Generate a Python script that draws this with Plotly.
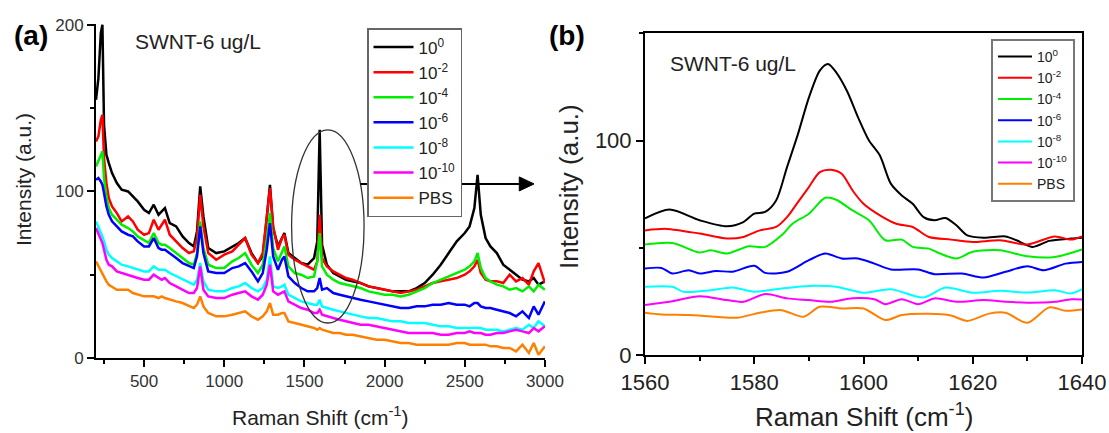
import plotly.graph_objects as go

W, H = 1109, 433
FONT = "Arial, Liberation Sans, sans-serif"

# ---------------- Panel (a): full spectra ----------------
a_shift = [200, 215, 230, 240, 250, 265, 280, 300, 330, 360, 400, 430, 460, 500, 530, 560, 590, 610, 630,
           660, 700, 740, 780, 810, 830, 850, 870, 900, 950, 1000, 1050, 1090, 1130, 1170, 1210, 1240,
           1265, 1285, 1305, 1335, 1360, 1375, 1400, 1440, 1480, 1520, 1560, 1580, 1595, 1610, 1640,
           1680, 1720, 1760, 1800, 1850, 1900, 1950, 2000, 2050, 2100, 2150, 2200, 2250, 2300, 2350,
           2400, 2450, 2500, 2530, 2560, 2580, 2600, 2630, 2660, 2700, 2740, 2780, 2820, 2860, 2900,
           2930, 2960, 3000]

a_1e0 = [155, 168, 195, 200, 140, 122, 117, 111, 105, 101, 100, 97, 94, 89, 87, 92, 86, 88, 90,
         81, 79, 73, 69, 67, 76, 103, 85, 66, 63, 64, 67, 69, 72, 63, 57, 61,
         84, 104, 78, 67, 72, 75, 63, 60, 57, 56, 60, 70, 137, 68, 56,
         51, 49, 47, 46, 45, 43, 42, 41, 40, 40, 40, 42, 45, 50, 56,
         63, 70, 75, 79, 90, 110, 86, 72, 67, 63, 56, 53, 50, 47, 46,
         48, 44, 46]
a_1e2 = [130, 133, 143, 146, 120, 105, 96, 91, 87, 82, 85, 82, 77, 74, 75, 83, 77, 80, 83,
         74, 70, 66, 63, 64, 72, 98, 79, 63, 59, 62, 64, 68, 72, 62, 57, 63,
         84, 102, 79, 65, 72, 74, 62, 59, 57, 55, 53, 58, 86, 60, 55,
         52, 50, 48, 47, 45, 43, 42, 41, 40, 39, 40, 41, 43, 45, 46,
         47, 48, 50, 52, 55, 59, 51, 47, 46, 46, 45, 50, 46, 48, 44,
         52, 57, 45]
a_1e4 = [115, 118, 122, 124, 108, 97, 90, 86, 83, 80, 78, 76, 73, 71, 69, 75, 69, 68, 68,
         66, 63, 60, 57, 56, 63, 82, 66, 56, 54, 54, 58, 60, 63, 56, 51, 56,
         71, 87, 66, 58, 64, 67, 55, 51, 50, 48, 49, 58, 75, 55, 50,
         47, 45, 44, 43, 42, 40, 39, 38, 38, 37, 38, 40, 42, 45, 47,
         49, 51, 53, 55, 58, 63, 54, 48, 46, 44, 43, 41, 42, 40, 43,
         40, 44, 41]
a_1e6 = [107, 108, 106, 104, 99, 91, 86, 82, 79, 76, 74, 73, 70, 67, 67, 72, 66, 65, 65,
         63, 60, 57, 55, 54, 61, 79, 63, 52, 51, 51, 54, 55, 57, 52, 46, 51,
         65, 81, 61, 53, 59, 61, 49, 45, 42, 40, 40, 42, 48, 41, 42,
         39, 38, 37, 36, 35, 34, 33, 32, 31, 30, 30, 31, 31, 32, 32,
         33, 32, 32, 31, 33, 33, 31, 30, 30, 29, 28, 27, 25, 28, 24,
         31, 26, 34]
a_1e8 = [82, 79, 76, 73, 70, 65, 62, 60, 58, 56, 55, 54, 53, 52, 52, 55, 53, 53, 53,
         51, 49, 47, 45, 44, 47, 57, 46, 41, 40, 40, 42, 43, 45, 42, 40, 42,
         47, 61, 43, 42, 43, 44, 38, 36, 34, 33, 32, 32, 35, 31, 30,
         29, 28, 27, 26, 25, 24, 24, 23, 22, 22, 21, 21, 21, 20, 19,
         19, 18, 18, 18, 18, 18, 18, 17, 17, 17, 16, 17, 18, 17, 20,
         18, 22, 19]
a_1e10 = [78, 75, 72, 69, 65, 59, 56, 55, 52, 51, 50, 49, 48, 47, 47, 50, 48, 47, 48,
          45, 43, 41, 39, 39, 42, 55, 41, 37, 36, 36, 38, 39, 40, 37, 35, 38,
          44, 56, 40, 38, 39, 40, 34, 32, 30, 29, 27, 27, 29, 26, 25,
          24, 23, 22, 21, 20, 20, 19, 18, 17, 16, 15, 15, 15, 15, 14,
          14, 15, 15, 16, 15, 15, 15, 14, 14, 15, 15, 16, 17, 16, 15,
          18, 16, 19]
a_pbs = [58, 55, 53, 51, 49, 46, 44, 43, 41, 41, 41, 39, 38, 37, 37, 37, 36, 37, 36,
         35, 34, 33, 31, 30, 32, 37, 31, 27, 25, 25, 26, 27, 28, 25, 23, 25,
         28, 33, 26, 26, 27, 27, 22, 21, 20, 19, 18, 17, 18, 17, 16,
         15, 15, 14, 14, 13, 12, 11, 11, 10, 9, 9, 8, 8, 8, 8,
         8, 9, 9, 8, 8, 8, 8, 8, 7, 7, 6, 6, 4, 8, 3,
         9, 2, 7]

# ---------------- Panel (b): G-band zoom ----------------
b_1e0_x = [1560, 1564.5, 1570, 1575, 1578, 1580, 1582, 1584, 1586, 1588, 1590, 1592, 1593.5, 1595, 1597,
           1599, 1601, 1603, 1605, 1607, 1609, 1611, 1613, 1615, 1617, 1619, 1622, 1626, 1628, 1631,
           1634, 1638, 1640]
b_1e0_y = [63.7, 67.8, 62.8, 60, 62, 65.9, 66.7, 72, 87.6, 103, 120, 132.6, 135.7, 131.8, 123,
           110.8, 100, 93, 79.9, 74.4, 70.5, 64.3, 62.8, 63.9, 60.5, 55.8, 54.7, 55.3, 53.5, 50.4,
           53.2, 54.3, 54.7]
b_1e2_x = [1560, 1564, 1570, 1575, 1578, 1581, 1584, 1586, 1588, 1590, 1592, 1594, 1596, 1598, 1600,
           1603, 1606, 1609, 1612, 1616, 1620, 1625, 1630, 1635, 1638, 1640]
b_1e2_y = [58.1, 58.8, 56.6, 54.3, 55, 58.1, 59.7, 64.3, 71.3, 78.3, 85.3, 86.4, 84.5, 76.7, 70.5,
           65.1, 61.2, 59.7, 55, 53.8, 52.7, 53.5, 51.5, 55.3, 53.8, 55.3]
b_1e4_x = [1560, 1565, 1570, 1572, 1575, 1579, 1582, 1585, 1587, 1590, 1593, 1595, 1598, 1601, 1604,
           1607, 1609, 1612, 1614, 1617, 1620, 1625, 1630, 1635, 1640]
b_1e4_y = [51.5, 52.2, 47.8, 48.8, 47.3, 50.7, 50.4, 55.8, 61.2, 65.9, 73.3, 72.4, 67.4, 62.8, 53.5,
           53.8, 50.4, 49.6, 47.3, 45, 48.1, 48.8, 46, 45.7, 49.2]
b_1e6_x = [1560, 1563, 1565, 1568, 1570, 1573, 1576, 1580, 1582, 1586, 1590, 1593, 1596, 1599, 1602,
           1605, 1610, 1613, 1618, 1622, 1626, 1630, 1633, 1637, 1640]
b_1e6_y = [40.3, 40.6, 38, 39.5, 38, 39.2, 38.8, 41.6, 38.3, 38.8, 44.2, 47.3, 45, 45, 42.6,
           39.9, 39.9, 37.7, 38, 36.1, 38.8, 41.4, 39.5, 42.6, 43.4]
b_1e8_x = [1560, 1565, 1567, 1572, 1576, 1580, 1585, 1590, 1595, 1600, 1605, 1611, 1615, 1620, 1625,
           1630, 1635, 1638, 1640]
b_1e8_y = [31.8, 31.8, 29.5, 30.2, 31.5, 29.5, 31, 32.2, 31.8, 29, 30.7, 26.8, 31.5, 29, 29.9,
           29.1, 30.2, 28.7, 30.7]
b_1e10_x = [1560, 1565, 1570, 1575, 1578, 1582, 1586, 1590, 1594, 1598, 1602, 1604, 1607, 1610, 1613,
            1617, 1622, 1626, 1630, 1635, 1638, 1640]
b_1e10_y = [23.3, 25.1, 27.4, 25.6, 24.8, 28.4, 26.4, 25.6, 24.8, 26.5, 26, 23.7, 26, 23.7, 26.4,
            24.8, 25.6, 24.8, 24.4, 24.8, 26, 25.9]
b_pbs_x = [1560, 1563, 1568, 1573, 1577, 1581, 1585, 1589, 1592, 1596, 1600, 1604, 1607, 1612, 1616,
           1619, 1623, 1626, 1630, 1634, 1637, 1640]
b_pbs_y = [19.7, 18.9, 18.6, 17.8, 17.4, 19.7, 20.9, 17.8, 22.5, 21.7, 21.7, 16.3, 18.6, 19.2, 18.4,
           15.9, 19.3, 19.7, 15, 22.2, 20.6, 21.2]

labels = ["10<sup>0</sup>", "10<sup>-2</sup>", "10<sup>-4</sup>", "10<sup>-6</sup>",
          "10<sup>-8</sup>", "10<sup>-10</sup>", "PBS"]
colors = ["#000000", "#FF0000", "#00EE00", "#0000FF", "#00FFFF", "#FF00FF", "#FF8000"]

a_series = [a_1e0, a_1e2, a_1e4, a_1e6, a_1e8, a_1e10, a_pbs]
b_series = [(b_1e0_x, b_1e0_y), (b_1e2_x, b_1e2_y), (b_1e4_x, b_1e4_y), (b_1e6_x, b_1e6_y),
            (b_1e8_x, b_1e8_y), (b_1e10_x, b_1e10_y), (b_pbs_x, b_pbs_y)]

fig = go.Figure()
for lab, col, ys in zip(labels, colors, a_series):
    fig.add_trace(go.Scatter(x=a_shift, y=ys, mode="lines", name=lab,
                             line=dict(color=col, width=2.5), xaxis="x", yaxis="y",
                             legend="legend"))
for lab, col, (xs, ys) in zip(labels, colors, b_series):
    fig.add_trace(go.Scatter(x=xs, y=ys, mode="lines", name=lab,
                             line=dict(color=col, width=2, shape="spline", smoothing=0.8),
                             xaxis="x2", yaxis="y2", legend="legend2"))


def fx(px):
    return px / W


def fy(py):
    return 1 - py / H


axis_common = dict(showgrid=False, zeroline=False, showline=True, linecolor="black",
                   ticks="outside", tickcolor="black", tickwidth=1.5, ticklen=7,
                   automargin=False)

fig.update_layout(
    width=W, height=H, margin=dict(l=0, r=0, t=0, b=0, pad=0, autoexpand=False),
    paper_bgcolor="white", plot_bgcolor="white",
    font=dict(family=FONT, color="#222"),
    xaxis=dict(domain=[fx(96), fx(545)], range=[200, 3000.5], anchor="y", dtick=500, tick0=0,
               linewidth=2, tickfont=dict(size=17, color="#333"),
               minor=dict(ticks="outside", ticklen=4, dtick=250, tick0=0, tickcolor="black"),
               **axis_common),
    yaxis=dict(domain=[fy(358), fy(24)], range=[0, 200.5], anchor="x", dtick=100, tick0=0,
               linewidth=2, tickfont=dict(size=17, color="#333"),
               minor=dict(ticks="outside", ticklen=4, dtick=50, tick0=0, tickcolor="black"),
               **axis_common),
    xaxis2=dict(domain=[fx(645), fx(1082)], range=[1560, 1640], anchor="y2", dtick=20, tick0=1560,
                linewidth=2, mirror=True, tickfont=dict(size=22, color="#222"),
                minor=dict(ticks="outside", ticklen=4, dtick=10, tick0=1560, tickcolor="black"),
                **axis_common),
    yaxis2=dict(domain=[fy(355), fy(33.3)], range=[0, 150], anchor="x2", dtick=100, tick0=0,
                linewidth=2, mirror=True, tickfont=dict(size=22, color="#222"),
                minor=dict(ticks="outside", ticklen=4, dtick=50, tick0=0, tickcolor="black"),
                **axis_common),
    legend=dict(x=fx(367), y=fy(28), xanchor="left", yanchor="top", bgcolor="white",
                bordercolor="#666", borderwidth=1.5, font=dict(size=17, color="#222", family=FONT),
                itemwidth=40, tracegroupgap=0),
    legend2=dict(x=fx(991), y=fy(39), xanchor="left", yanchor="top", bgcolor="white",
                 bordercolor="#777", borderwidth=2, font=dict(size=14, color="#222", family=FONT),
                 itemwidth=34, tracegroupgap=0),
)

# ellipse highlighting the G band and arrow to panel (b)
fig.add_shape(type="circle", xref="x", yref="y", x0=1420, x1=1872, y0=21, y1=137,
              line=dict(color="#333", width=1.3), layer="above")
fig.add_shape(type="line", xref="x", yref="y", x0=1849, x1=2845, y0=104.5, y1=104.5,
              line=dict(color="black", width=2), layer="above")
fig.add_shape(type="path", xref="x", yref="y", path="M 2840 108.7 L 2932 104.5 L 2840 100.3 Z",
              fillcolor="black", line=dict(color="black", width=1), layer="above")

ann = [
    dict(text="<b>(a)</b>", x=fx(31), y=fy(36), size=28, color="black"),
    dict(text="<b>(b)</b>", x=fx(567), y=fy(36), size=28, color="black"),
    dict(text="SWNT-6 ug/L", x=fx(198), y=fy(42), size=21, color="#222"),
    dict(text="SWNT-6 ug/L", x=fx(733), y=fy(63), size=21, color="#222"),
    dict(text="Raman Shift (cm<sup>-1</sup>)", x=fx(320), y=fy(416), size=21, color="#222"),
    dict(text="Raman Shift (cm<sup>-1</sup>)", x=fx(864), y=fy(415), size=26, color="#222"),
]
for a in ann:
    fig.add_annotation(text=a["text"], x=a["x"], y=a["y"], xref="paper", yref="paper",
                       xanchor="center", yanchor="middle", showarrow=False,
                       font=dict(size=a["size"], color=a["color"], family=FONT))
fig.add_annotation(text="Intensity (a.u.)", x=fx(23), y=fy(180), xref="paper", yref="paper",
                   textangle=-90, showarrow=False, xanchor="center", yanchor="middle",
                   font=dict(size=21, color="#222", family=FONT))
fig.add_annotation(text="Intensity (a.u.)", x=fx(569), y=fy(187), xref="paper", yref="paper",
                   textangle=-90, showarrow=False, xanchor="center", yanchor="middle",
                   font=dict(size=26, color="#222", family=FONT))

fig.write_html("out.html", config={"displayModeBar": False},
               post_script="document.body.style.margin='0px';")
